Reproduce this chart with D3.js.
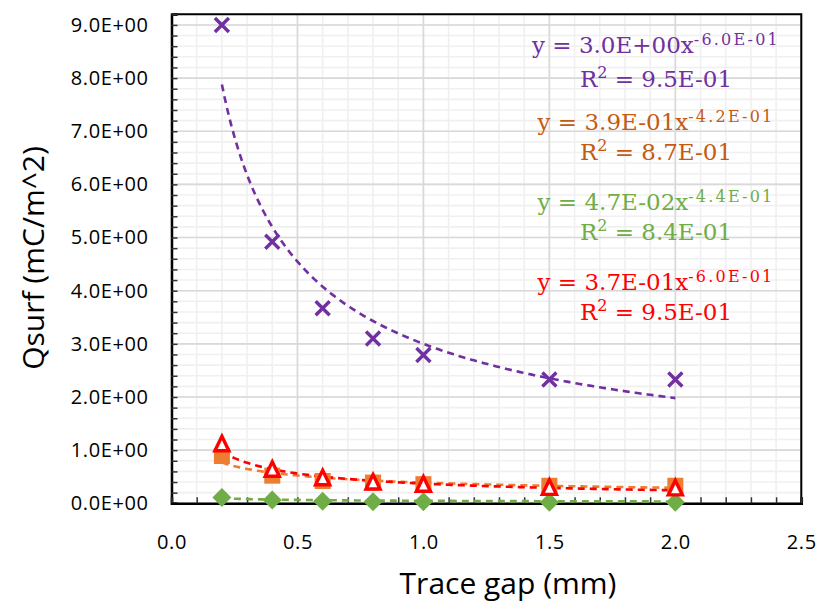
<!DOCTYPE html>
<html>
<head>
<meta charset="utf-8">
<script src="https://cdn.jsdelivr.net/npm/d3@7"></script>
<style>
	body { margin: 0; background: #fff; }
	#chartDiv { width: 823px; height: 604px; }
</style>
</head>
<body>
<div id="chartDiv"></div>
<script>
// data
var traceGap = [0.2, 0.4, 0.6, 0.8, 1.0, 1.5, 2.0];
var qPurple = [9.0, 4.92, 3.67, 3.10, 2.79, 2.33, 2.33];
var qOrange = [0.89, 0.52, 0.42, 0.39, 0.36, 0.33, 0.33];
var qGreen = [0.11, 0.06, 0.04, 0.03, 0.03, 0.02, 0.02];
var qRed = [1.11, 0.63, 0.47, 0.39, 0.35, 0.29, 0.28];

// power trendlines y = a * x^b as printed on the chart
var trendA = [3.0, 0.39, 0.047, 0.37];
var trendB = [-0.60, -0.42, -0.44, -0.60];
var eqCoef = ["3.0E+00", "3.9E-01", "4.7E-02", "3.7E-01"];
var eqExp = ["-6.0E-01", "-4.2E-01", "-4.4E-01", "-6.0E-01"];
var eqR2 = ["9.5E-01", "8.7E-01", "8.4E-01", "9.5E-01"];

var xTicks = [0, 0.5, 1.0, 1.5, 2.0, 2.5];
var yTicks = [0, 1, 2, 3, 4, 5, 6, 7, 8, 9];

function drawChart() {
	var W = 823, H = 604;
	var svg = d3.select("#chartDiv").append("svg")
		.attr("width", W)
		.attr("height", H)
		.style("background", "#fff");

	var x = d3.scaleLinear().domain([0, 2.5]).range([171.5, 801.3]);
	var y = d3.scaleLinear().domain([0, 9.2]).range([503.3, 14.3]);

	var purple = "#7030A0", orange = "#ED7D31", green = "#70AD47", red = "#FF0000";
	var series = [
		{ vals: qPurple, color: purple, text: purple, shape: "x" },
		{ vals: qOrange, color: orange, text: "#C55A11", shape: "square" },
		{ vals: qGreen, color: green, text: green, shape: "diamond" },
		{ vals: qRed, color: red, text: red, shape: "triangle" }
	];

	//grid lines, minor first then major
	var grid = svg.append("g");
	var xMinor = d3.range(0, 25).map(function(i) { return i / 10; });
	var yMinor = d3.range(0, 47).map(function(i) { return i / 5; });
	grid.selectAll(".vmin").data(xMinor).enter().append("line")
		.attr("x1", function(d) { return x(d); }).attr("x2", function(d) { return x(d); })
		.attr("y1", y(0)).attr("y2", y(9.2))
		.attr("stroke", "#f0f0f0").attr("stroke-width", 1.6);
	grid.selectAll(".hmin").data(yMinor).enter().append("line")
		.attr("y1", function(d) { return y(d); }).attr("y2", function(d) { return y(d); })
		.attr("x1", x(0)).attr("x2", x(2.5))
		.attr("stroke", "#f0f0f0").attr("stroke-width", 1.6);
	grid.selectAll(".vmaj").data(xTicks).enter().append("line")
		.attr("x1", function(d) { return x(d); }).attr("x2", function(d) { return x(d); })
		.attr("y1", y(0)).attr("y2", y(9.2))
		.attr("stroke", "#d9d9d9").attr("stroke-width", 1.6);
	grid.selectAll(".hmaj").data(yTicks).enter().append("line")
		.attr("y1", function(d) { return y(d); }).attr("y2", function(d) { return y(d); })
		.attr("x1", x(0)).attr("x2", x(2.5))
		.attr("stroke", "#d9d9d9").attr("stroke-width", 1.6);

	//plot border (top and right)
	svg.append("path")
		.attr("d", "M" + x(0) + "," + y(9.2) + "H" + x(2.5) + "V" + y(0))
		.attr("fill", "none").attr("stroke", "#000").attr("stroke-width", 2);

	//axes
	var fmtE = function(d) {
		var s = d.toExponential(1).split("e");
		var e = parseInt(s[1]);
		return s[0] + "E" + (e < 0 ? "-" : "+") + (Math.abs(e) < 10 ? "0" : "") + Math.abs(e);
	};
	var yAxis = svg.append("g")
		.attr("transform", "translate(" + x(0) + ",0)")
		.call(d3.axisLeft(y).tickValues(yMinor).tickSize(-6).tickFormat(""));
	var yLabels = svg.append("g")
		.attr("transform", "translate(" + x(0) + ",0)")
		.call(d3.axisLeft(y).tickValues(yTicks).tickSize(0).tickPadding(23).tickFormat(fmtE));
	var xAxis = svg.append("g")
		.attr("transform", "translate(0," + y(0) + ")")
		.call(d3.axisBottom(x).tickValues(xMinor.concat([2.5])).tickSize(-6).tickFormat(""));
	var xLabels = svg.append("g")
		.attr("transform", "translate(0," + y(0) + ")")
		.call(d3.axisBottom(x).tickValues(xTicks).tickSize(0).tickPadding(32).tickFormat(d3.format(".1f")));

	svg.selectAll(".domain").attr("stroke", "#000").attr("stroke-width", 2.5);
	yLabels.select(".domain").remove();
	xLabels.select(".domain").remove();
	svg.selectAll(".tick line").attr("stroke", "#333").attr("stroke-width", 1.5);
	svg.selectAll(".tick text")
		.style("font-family", "'Open Sans', sans-serif")
		.style("font-size", "20px")
		.style("letter-spacing", "0.6px")
		.attr("fill", "#000");

	//axis titles
	svg.append("text")
		.attr("x", 508).attr("y", 594)
		.attr("text-anchor", "middle")
		.style("font-family", "'Open Sans', sans-serif")
		.style("font-size", "30px")
		.text("Trace gap (mm)");
	svg.append("text")
		.attr("transform", "translate(44,258) rotate(-90)")
		.attr("text-anchor", "middle")
		.style("font-family", "'Open Sans', sans-serif")
		.style("font-size", "30px")
		.text("Qsurf (mC/m^2)");

	//trendlines
	var xs = d3.range(traceGap[0], traceGap[traceGap.length - 1] + 0.0001, 0.01);
	var line = d3.line()
		.x(function(d) { return x(d[0]); })
		.y(function(d) { return y(d[1]); });
	series.forEach(function(s, i) {
		var pts = xs.map(function(v) { return [v, trendA[i] * Math.pow(v, trendB[i])]; });
		svg.append("path")
			.datum(pts)
			.attr("d", line)
			.attr("fill", "none")
			.attr("stroke", s.color)
			.attr("stroke-width", 2.6)
			.attr("stroke-dasharray", "7,5");
	});

	//markers
	series.forEach(function(s) {
		var g = svg.append("g");
		var pts = g.selectAll("g").data(s.vals).enter().append("g")
			.attr("transform", function(d, i) {
				return "translate(" + x(traceGap[i]) + "," + y(d) + ")";
			});
		if (s.shape == "x") {
			pts.append("path").attr("d", "M-7,-7L7,7M-7,7L7,-7")
				.attr("stroke", s.color).attr("stroke-width", 3.4).attr("fill", "none");
		} else if (s.shape == "square") {
			pts.append("rect").attr("x", -8).attr("y", -8).attr("width", 16).attr("height", 16)
				.attr("fill", s.color);
		} else if (s.shape == "diamond") {
			pts.append("path").attr("d", "M0,-9.5L9.5,0L0,9.5L-9.5,0Z").attr("fill", s.color);
		} else {
			pts.append("path").attr("d", "M0,-8L7,6.5L-7,6.5Z")
				.attr("fill", "#fff").attr("stroke", s.color).attr("stroke-width", 3.4)
				.attr("stroke-linejoin", "miter");
		}
	});

	//trendline equations
	var eqY = [53, 130, 210, 290];
	var r2Y = [87, 160, 240, 320];
	series.forEach(function(s, i) {
		var t1 = svg.append("text")
			.attr("x", 656).attr("y", eqY[i])
			.attr("text-anchor", "middle")
			.attr("fill", s.text)
			.style("font-family", "'DejaVu Serif', serif")
			.style("font-size", "23px");
		t1.append("tspan").text("y = " + eqCoef[i] + "x");
		t1.append("tspan").attr("dy", -8).style("font-size", "16px")
			.style("letter-spacing", "2.2px").text(eqExp[i]);

		var t2 = svg.append("text")
			.attr("x", 656).attr("y", r2Y[i])
			.attr("text-anchor", "middle")
			.attr("fill", s.text)
			.style("font-family", "'DejaVu Serif', serif")
			.style("font-size", "23px");
		t2.append("tspan").text("R");
		t2.append("tspan").attr("dy", -9).style("font-size", "16px").text("2");
		t2.append("tspan").attr("dy", 9).text(" = " + eqR2[i]);
	});
}

drawChart();
</script>
</body>
</html>
